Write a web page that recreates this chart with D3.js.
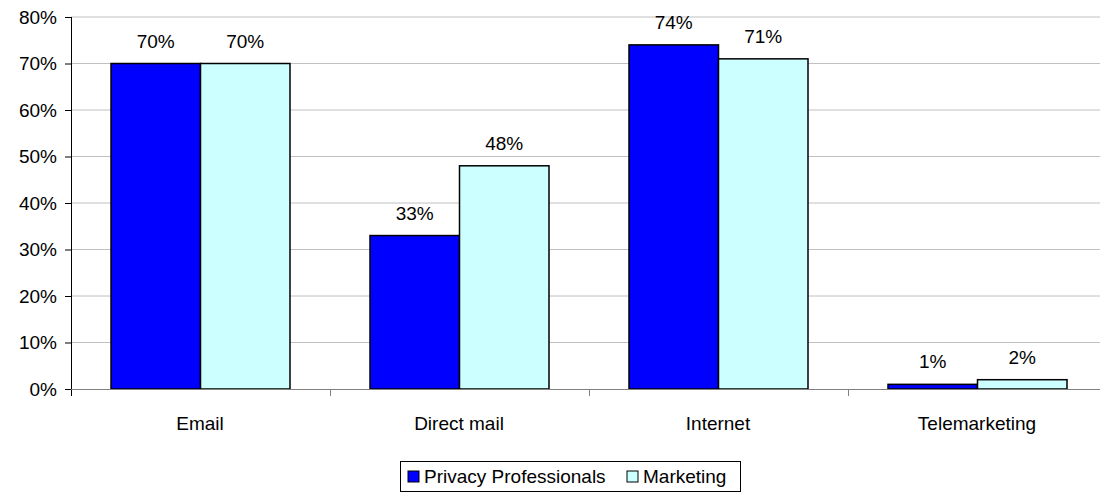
<!DOCTYPE html>
<html>
<head>
<meta charset="utf-8">
<script src="https://cdn.jsdelivr.net/npm/d3@7"></script>
<style>
  body { margin: 0; background: #fff; }
  text { font-family: Arial, "Liberation Sans", sans-serif; fill: #000; }
</style>
</head>
<body>
<script>
    const categories = ["Email", "Direct mail", "Internet", "Telemarketing"];
    const seriesNames = ["Privacy Professionals", "Marketing"];
    const privacy = [70, 33, 74, 1];
    const marketing = [70, 48, 71, 2];
    const yTicks = [0, 10, 20, 30, 40, 50, 60, 70, 80];
    const colors = ["#0000ff", "#ccffff"];

    const W = 1100, H = 499;
    const m = { top: 17, left: 71, bottom: 110 };
    const plotW = 1036, plotH = 372;
    const fs = 19;

    const svg = d3.select("body").append("svg")
        .attr("width", W)
        .attr("height", H);

    const g = svg.append("g").attr("transform", "translate(" + m.left + "," + m.top + ")");

    const x0 = d3.scaleBand().domain(categories).range([0, plotW]).padding(0);
    const x1 = d3.scaleBand().domain(seriesNames).range([40, 219]);
    const y = d3.scaleLinear().domain([0, 80]).range([plotH, 0]);

    // gridlines
    g.selectAll("line.grid")
        .data(yTicks.filter(d => d > 0))
        .enter().append("line")
        .attr("x1", 0).attr("x2", plotW)
        .attr("y1", d => y(d)).attr("y2", d => y(d))
        .attr("stroke", "#c0c0c0").attr("stroke-width", 1);

    // y axis
    const yAxis = d3.axisLeft(y).tickValues(yTicks).tickFormat(d => d + "%").tickSize(6).tickPadding(8);
    const ya = g.append("g").call(yAxis);
    ya.select(".domain").remove();
    ya.selectAll("line").attr("stroke", "#000");
    ya.selectAll("text").attr("font-size", fs).attr("font-family", "Arial, 'Liberation Sans', sans-serif");
    g.append("line").attr("x1", 0.5).attr("x2", 0.5).attr("y1", 0).attr("y2", plotH + 7).attr("stroke", "#000");

    const rows = categories.map((c, i) => ({ cat: c, vals: [privacy[i], marketing[i]] }));

    const grp = g.selectAll("g.cat")
        .data(rows)
        .enter().append("g")
        .attr("transform", d => "translate(" + x0(d.cat) + ",0)");

    grp.selectAll("rect")
        .data(d => d.vals.map((v, j) => ({ s: seriesNames[j], v: v, j: j })))
        .enter().append("rect")
        .attr("x", d => x1(d.s))
        .attr("y", d => y(d.v))
        .attr("width", x1.bandwidth())
        .attr("height", d => plotH - y(d.v))
        .attr("fill", d => colors[d.j])
        .attr("stroke", "#000").attr("stroke-width", 1.5);

    grp.selectAll("text.val")
        .data(d => d.vals.map((v, j) => ({ s: seriesNames[j], v: v })))
        .enter().append("text")
        .attr("x", d => x1(d.s) + x1.bandwidth() / 2)
        .attr("y", d => y(d.v) - 16)
        .attr("text-anchor", "middle")
        .attr("font-size", fs)
        .text(d => d.v + "%");

    // x axis
    g.append("line").attr("x1", 0).attr("x2", plotW).attr("y1", plotH + 0.5).attr("y2", plotH + 0.5).attr("stroke", "#808080");
    g.selectAll("line.xtick")
        .data(categories.slice(1))
        .enter().append("line")
        .attr("x1", d => x0(d) + 0.5).attr("x2", d => x0(d) + 0.5)
        .attr("y1", plotH).attr("y2", plotH + 7)
        .attr("stroke", "#808080");
    g.selectAll("text.cat")
        .data(categories)
        .enter().append("text")
        .attr("x", d => x0(d) + 129)
        .attr("y", plotH + 41)
        .attr("text-anchor", "middle")
        .attr("font-size", fs)
        .text(d => d);

    // legend
    const lg = svg.append("g").attr("transform", "translate(400,461)");
    lg.append("rect").attr("x", 0.5).attr("y", 0.5).attr("width", 340).attr("height", 30)
        .attr("fill", "#fff").attr("stroke", "#000");
    const items = [{ x: 8, n: seriesNames[0], c: colors[0] }, { x: 227, n: seriesNames[1], c: colors[1] }];
    items.forEach(it => {
        lg.append("rect").attr("x", it.x).attr("y", 10).attr("width", 11).attr("height", 11)
            .attr("fill", it.c).attr("stroke", "#000");
        lg.append("text").attr("x", it.x + 16).attr("y", 22).attr("font-size", fs).text(it.n);
    });
</script>
</body>
</html>
